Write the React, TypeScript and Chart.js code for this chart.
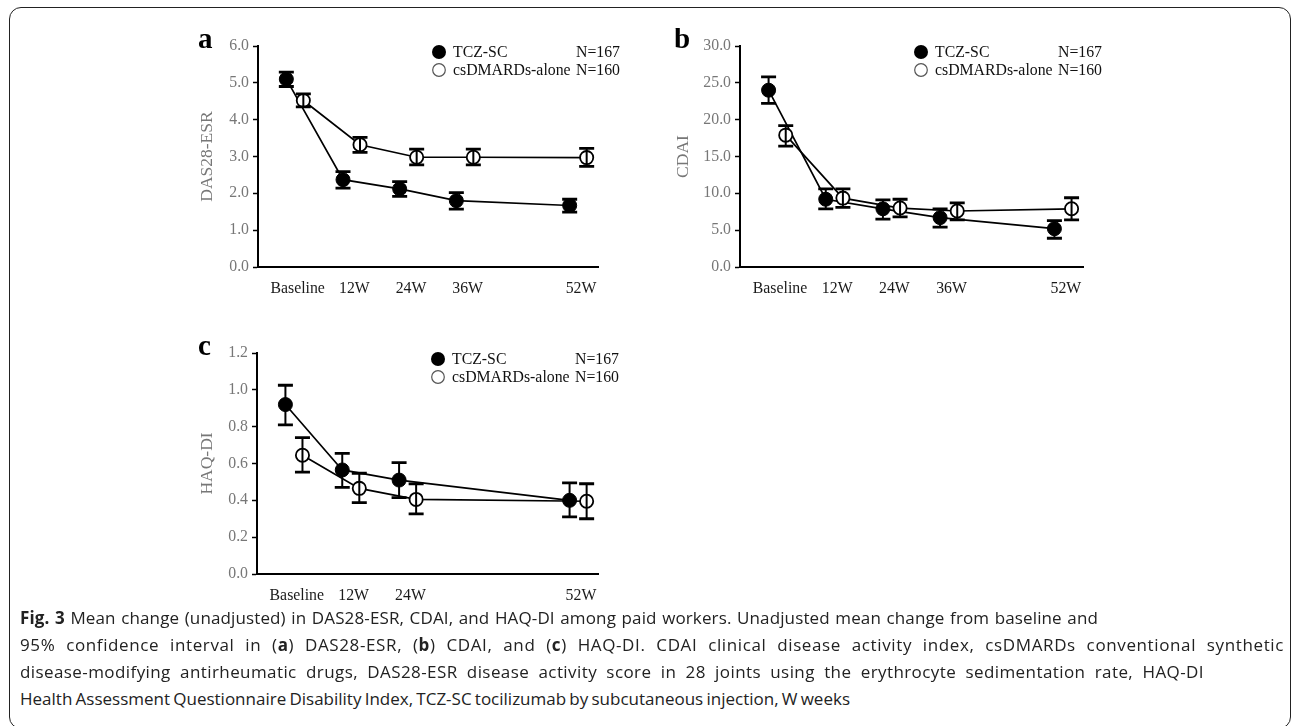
import React, { useEffect, useLayoutEffect, useRef } from 'react';
import { Chart, registerables } from 'chart.js';

Chart.register(...registerables);

// ---------- data ----------
const categoriesAB = ['Baseline', '12W', '24W', '36W', '', '52W'];
const categoriesC = ['Baseline', '12W', '24W', '', '', '52W'];

const seriesNames = ['TCZ-SC', 'csDMARDs-alone'];
const seriesN = ['N=167', 'N=160'];

// (a) DAS28-ESR
const dasTcz = [5.1, 2.37, 2.12, 1.8, null, 1.67];
const dasTczLo = [4.9, 2.14, 1.92, 1.57, null, 1.49];
const dasTczHi = [5.29, 2.59, 2.32, 2.02, null, 1.84];
const dasCs = [4.52, 3.32, 2.98, 2.98, null, 2.97];
const dasCsLo = [4.35, 3.11, 2.77, 2.77, null, 2.73];
const dasCsHi = [4.7, 3.52, 3.2, 3.2, null, 3.22];
const dasTicks = [0, 1, 2, 3, 4, 5, 6];

// (b) CDAI
const cdaiTcz = [24.0, 9.2, 7.9, 6.7, null, 5.2];
const cdaiTczLo = [22.2, 7.9, 6.5, 5.4, null, 3.9];
const cdaiTczHi = [25.8, 10.6, 9.1, 7.9, null, 6.3];
const cdaiCs = [17.9, 9.35, 8.0, 7.6, null, 7.9];
const cdaiCsLo = [16.4, 8.1, 6.8, 6.4, null, 6.4];
const cdaiCsHi = [19.2, 10.6, 9.2, 8.7, null, 9.4];
const cdaiTicks = [0, 5, 10, 15, 20, 25, 30];

// (c) HAQ-DI
const haqTcz = [0.92, 0.565, 0.51, null, null, 0.4];
const haqTczLo = [0.81, 0.47, 0.415, null, null, 0.31];
const haqTczHi = [1.025, 0.655, 0.605, null, null, 0.495];
const haqCs = [0.645, 0.465, 0.405, null, null, 0.395];
const haqCsLo = [0.553, 0.388, 0.326, null, null, 0.3];
const haqCsHi = [0.74, 0.547, 0.489, null, null, 0.49];
const haqTicks = [0, 0.2, 0.4, 0.6, 0.8, 1.0, 1.2];

const captionLines = [
  [{ b: true, t: 'Fig. 3' }, { t: ' Mean change (unadjusted) in DAS28-ESR, CDAI, and HAQ-DI among paid workers. Unadjusted mean change from baseline and' }],
  [{ t: '95% confidence interval in (' }, { b: true, t: 'a' }, { t: ') DAS28-ESR, (' }, { b: true, t: 'b' }, { t: ') CDAI, and (' }, { b: true, t: 'c' }, { t: ') HAQ-DI. CDAI clinical disease activity index, csDMARDs conventional synthetic' }],
  [{ t: 'disease-modifying antirheumatic drugs, DAS28-ESR disease activity score in 28 joints using the erythrocyte sedimentation rate, HAQ-DI' }],
  [{ t: 'Health Assessment Questionnaire Disability Index, TCZ-SC tocilizumab by subcutaneous injection, W weeks' }],
];

// ---------- styling / layout ----------
const SERIF = "'Liberation Serif', 'Times New Roman', serif";
const CS_OFFSET = 0.3;
const TICK_OFFSET = 0.2;
const CAPTION_LEFT = 20;
const CAPTION_RIGHTS = [1098, 1284, 1204, 850];

type Num = number | null;

interface PanelProps {
  letter: string;
  left: number;
  top: number;
  width: number;
  height: number;
  yAxisWidth: number;
  padRight: number;
  categories: string[];
  tcz: Num[];
  tczLo: Num[];
  tczHi: Num[];
  cs: Num[];
  csLo: Num[];
  csHi: Num[];
  yTicks: number[];
  yTitle: string;
}

function toPoints(vals: Num[], lo: Num[], hi: Num[], offset: number) {
  const out: any[] = [];
  vals.forEach((v, i) => {
    if (v === null || v === undefined) return;
    out.push({ x: i + offset, y: v, lo: lo[i], hi: hi[i] });
  });
  return out;
}

const errorBarPlugin = {
  id: 'errorBars',
  afterDatasetsDraw(chart: any) {
    const ctx = chart.ctx;
    const yScale = chart.scales.y;
    ctx.save();
    ctx.strokeStyle = '#000';
    ctx.lineCap = 'butt';
    chart.data.datasets.forEach((ds: any, di: number) => {
      const meta = chart.getDatasetMeta(di);
      meta.data.forEach((el: any, j: number) => {
        const p = ds.data[j];
        if (!p || p.lo == null || p.hi == null) return;
        const x = el.x;
        const yl = yScale.getPixelForValue(p.lo);
        const yh = yScale.getPixelForValue(p.hi);
        ctx.lineWidth = 2;
        ctx.beginPath();
        ctx.moveTo(x, yl);
        ctx.lineTo(x, yh);
        ctx.stroke();
        ctx.lineWidth = 2.8;
        ctx.beginPath();
        ctx.moveTo(x - 7.5, yl);
        ctx.lineTo(x + 7.5, yl);
        ctx.moveTo(x - 7.5, yh);
        ctx.lineTo(x + 7.5, yh);
        ctx.stroke();
      });
    });
    ctx.restore();
  },
};

function Panel(props: PanelProps) {
  const ref = useRef<HTMLCanvasElement | null>(null);

  useEffect(() => {
    const canvas = ref.current;
    if (!canvas) return;
    const cats = props.categories;

    const overlayPlugin = {
      id: 'overlay',
      afterDraw(chart: any) {
        const { ctx, chartArea } = chart;
        ctx.save();
        // panel letter
        ctx.fillStyle = '#000';
        ctx.font = `bold 29px ${SERIF}`;
        ctx.textAlign = 'left';
        ctx.textBaseline = 'alphabetic';
        ctx.fillText(props.letter, 3, chartArea.top + 2);
        // legend
        ctx.font = `15.8px ${SERIF}`;
        ctx.textBaseline = 'middle';
        const cx = chartArea.left + 181;
        const tx = chartArea.left + 195;
        const nx = chartArea.left + 362;
        [0, 1].forEach((k) => {
          const yy = chartArea.top + 6 + k * 18;
          ctx.beginPath();
          ctx.arc(cx, yy, k === 0 ? 7 : 6.3, 0, Math.PI * 2);
          if (k === 0) {
            ctx.fillStyle = '#000';
            ctx.fill();
          } else {
            ctx.fillStyle = '#fff';
            ctx.fill();
            ctx.lineWidth = 1.2;
            ctx.strokeStyle = '#555';
            ctx.stroke();
          }
          ctx.fillStyle = '#111';
          ctx.textAlign = 'left';
          ctx.fillText(seriesNames[k], tx, yy + 1);
          ctx.textAlign = 'right';
          ctx.fillText(seriesN[k], nx, yy + 1);
        });
        ctx.restore();
      },
    };

    const chart = new Chart(canvas, {
      type: 'line',
      data: {
        datasets: [
          {
            label: seriesNames[0],
            data: toPoints(props.tcz, props.tczLo, props.tczHi, 0),
            borderColor: '#000',
            borderWidth: 1.7,
            pointRadius: 7,
            pointBackgroundColor: '#000',
            pointBorderColor: '#000',
            pointBorderWidth: 1,
            fill: false,
            tension: 0,
            order: 1,
          } as any,
          {
            label: seriesNames[1],
            data: toPoints(props.cs, props.csLo, props.csHi, CS_OFFSET),
            borderColor: '#000',
            borderWidth: 1.7,
            pointRadius: 6.6,
            pointBackgroundColor: '#fff',
            pointBorderColor: '#000',
            pointBorderWidth: 1.8,
            fill: false,
            tension: 0,
            order: 0,
          } as any,
        ],
      },
      options: {
        responsive: false,
        animation: false,
        events: [],
        layout: { padding: { top: 18, right: props.padRight, bottom: 0, left: 0 } },
        plugins: {
          legend: { display: false },
          tooltip: { enabled: false },
        },
        scales: {
          x: {
            type: 'linear',
            min: -0.5,
            max: 5.5,
            bounds: 'data',
            grid: { display: false, drawTicks: false },
            border: { display: true, color: '#000', width: 2 },
            ticks: {
              padding: 12,
              autoSkip: false,
              maxRotation: 0,
              color: '#1a1a1a',
              font: { family: SERIF, size: 15.8 },
              callback: (_v: any, i: number) => cats[i],
            },
            afterBuildTicks: (s: any) => {
              s.ticks = cats.map((_c, i) => ({ value: i + TICK_OFFSET }));
            },
            afterFit: (s: any) => {
              s.height = 40;
            },
          } as any,
          y: {
            type: 'linear',
            min: props.yTicks[0],
            max: props.yTicks[props.yTicks.length - 1],
            grid: {
              drawOnChartArea: false,
              drawTicks: true,
              tickLength: 5,
              tickColor: '#000',
              tickWidth: 1.5,
            },
            border: { display: true, color: '#000', width: 2 },
            ticks: {
              padding: 4,
              color: '#777',
              font: { family: SERIF, size: 15.8 },
              callback: (v: any) => Number(v).toFixed(1),
            },
            afterBuildTicks: (s: any) => {
              s.ticks = props.yTicks.map((v) => ({ value: v }));
            },
            title: {
              display: true,
              text: props.yTitle,
              color: '#777',
              font: { family: SERIF, size: 17.5 },
              padding: { top: 1.5, bottom: 0 },
            },
            afterFit: (s: any) => {
              s.width = props.yAxisWidth;
            },
          } as any,
        },
      } as any,
      plugins: [errorBarPlugin, overlayPlugin],
    });
    return () => chart.destroy();
  }, []);

  return (
    <canvas
      ref={ref}
      width={props.width}
      height={props.height}
      style={{
        position: 'absolute',
        left: props.left,
        top: props.top,
        width: props.width,
        height: props.height,
      }}
    />
  );
}

function CaptionLine(props: { segs: { b?: boolean; t: string }[]; top: number; right: number }) {
  const ref = useRef<HTMLDivElement | null>(null);
  useLayoutEffect(() => {
    const el = ref.current;
    if (!el) return;
    el.style.letterSpacing = '0px';
    el.style.wordSpacing = '0px';
    const w = el.getBoundingClientRect().width;
    const text = el.textContent || '';
    const n = text.length || 1;
    const spaces = (text.match(/ /g) || []).length || 1;
    const extra = props.right - CAPTION_LEFT - w;
    if (extra > 0) {
      el.style.letterSpacing = `${(extra * 0.45) / n}px`;
      el.style.wordSpacing = `${(extra * 0.55) / spaces}px`;
    } else {
      el.style.wordSpacing = `${extra / spaces}px`;
    }
  }, []);
  return (
    <div
      ref={ref}
      style={{
        position: 'absolute',
        left: CAPTION_LEFT,
        top: props.top,
        height: 27,
        lineHeight: '27px',
        whiteSpace: 'nowrap',
        fontFamily: "'Open Sans', sans-serif",
        fontSize: 17,
        color: '#222',
      }}
    >
      {props.segs.map((seg, si) => (
        <span key={si} style={{ fontWeight: seg.b ? 700 : 400 }}>
          {seg.t}
        </span>
      ))}
    </div>
  );
}

export default function App() {
  return (
    <div
      style={{
        position: 'fixed',
        left: 0,
        top: 0,
        width: 1292,
        height: 726,
        overflow: 'hidden',
        background: '#fff',
      }}
    >
      <div
        style={{
          position: 'absolute',
          left: 9,
          top: 7,
          width: 1282,
          height: 722,
          border: '1.6px solid #222',
          borderRadius: 12,
          boxSizing: 'border-box',
        }}
      />
      <Panel
        letter="a"
        left={195}
        top={28}
        width={435}
        height={279}
        yAxisWidth={63}
        padRight={32}
        categories={categoriesAB}
        tcz={dasTcz}
        tczLo={dasTczLo}
        tczHi={dasTczHi}
        cs={dasCs}
        csLo={dasCsLo}
        csHi={dasCsHi}
        yTicks={dasTicks}
        yTitle="DAS28-ESR"
      />
      <Panel
        letter="b"
        left={671}
        top={28}
        width={439}
        height={279}
        yAxisWidth={69}
        padRight={27}
        categories={categoriesAB}
        tcz={cdaiTcz}
        tczLo={cdaiTczLo}
        tczHi={cdaiTczHi}
        cs={cdaiCs}
        csLo={cdaiCsLo}
        csHi={cdaiCsHi}
        yTicks={cdaiTicks}
        yTitle="CDAI"
      />
      <Panel
        letter="c"
        left={195}
        top={335}
        width={435}
        height={279}
        yAxisWidth={62}
        padRight={32}
        categories={categoriesC}
        tcz={haqTcz}
        tczLo={haqTczLo}
        tczHi={haqTczHi}
        cs={haqCs}
        csLo={haqCsLo}
        csHi={haqCsHi}
        yTicks={haqTicks}
        yTitle="HAQ-DI"
      />
      {captionLines.map((line, li) => (
        <CaptionLine key={li} segs={line} top={604 + li * 27} right={CAPTION_RIGHTS[li]} />
      ))}
    </div>
  );
}
